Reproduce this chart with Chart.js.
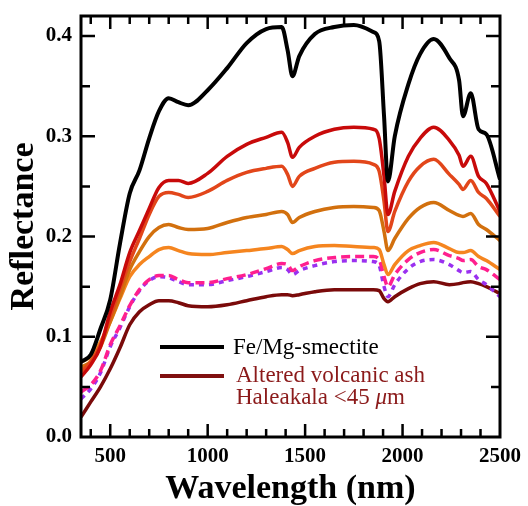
<!DOCTYPE html>
<html><head><meta charset="utf-8">
<script src="https://cdn.jsdelivr.net/npm/chart.js@4/dist/chart.umd.min.js"></script>
<style>html,body{margin:0;padding:0;background:#fff}#wrap{width:528px;height:506px}</style>
</head><body><div id="wrap"><canvas id="c" width="528" height="506"></canvas></div>
<script>
const wavelengths = [350,400,450,500,550,600,650,700,750,800,850,900,1000,1100,1200,1300,1380,1410,1435,1470,1550,1650,1750,1850,1880,1905,1925,1960,2030,2090,2160,2240,2290,2310,2350,2390,2430,2500];
const smectite   = [0.075,0.082,0.108,0.137,0.193,0.243,0.266,0.298,0.325,0.338,0.334,0.331,0.346,0.368,0.393,0.407,0.409,0.386,0.360,0.380,0.402,0.409,0.411,0.404,0.395,0.320,0.255,0.300,0.352,0.382,0.397,0.378,0.356,0.320,0.343,0.307,0.302,0.257];
const sampleRed  = [0.060,0.072,0.090,0.125,0.152,0.184,0.206,0.228,0.249,0.256,0.256,0.253,0.263,0.280,0.292,0.299,0.304,0.294,0.279,0.289,0.300,0.307,0.309,0.307,0.298,0.260,0.222,0.245,0.280,0.298,0.309,0.296,0.281,0.270,0.280,0.260,0.253,0.225];
const sampleOrRed= [0.065,0.075,0.092,0.120,0.148,0.175,0.198,0.222,0.240,0.244,0.242,0.239,0.245,0.256,0.264,0.268,0.270,0.262,0.250,0.260,0.268,0.274,0.275,0.272,0.265,0.235,0.205,0.225,0.255,0.270,0.277,0.262,0.252,0.247,0.256,0.244,0.238,0.220];
const sampleDkOr = [0.070,0.075,0.090,0.115,0.140,0.167,0.185,0.200,0.209,0.212,0.209,0.207,0.208,0.214,0.219,0.222,0.225,0.222,0.214,0.219,0.225,0.229,0.230,0.229,0.226,0.205,0.186,0.198,0.218,0.229,0.234,0.226,0.221,0.220,0.223,0.212,0.207,0.196];
const sampleOr   = [0.075,0.080,0.095,0.115,0.138,0.160,0.172,0.180,0.187,0.189,0.186,0.183,0.182,0.184,0.186,0.188,0.190,0.187,0.183,0.186,0.190,0.191,0.190,0.189,0.187,0.172,0.162,0.172,0.186,0.191,0.194,0.188,0.184,0.184,0.186,0.180,0.176,0.167];
const sampleMag  = [0.045,0.052,0.066,0.092,0.111,0.131,0.147,0.157,0.161,0.161,0.157,0.154,0.154,0.158,0.162,0.168,0.173,0.172,0.166,0.170,0.176,0.179,0.180,0.180,0.177,0.160,0.150,0.162,0.177,0.184,0.187,0.181,0.178,0.176,0.177,0.170,0.167,0.157];
const samplePur  = [0.038,0.048,0.064,0.090,0.109,0.130,0.146,0.156,0.160,0.159,0.155,0.152,0.152,0.156,0.160,0.165,0.169,0.167,0.162,0.166,0.171,0.175,0.176,0.175,0.171,0.150,0.140,0.152,0.168,0.175,0.177,0.172,0.166,0.164,0.165,0.157,0.152,0.140];
const ashHaleakala=[0.020,0.035,0.050,0.068,0.089,0.112,0.125,0.132,0.136,0.136,0.134,0.131,0.130,0.132,0.136,0.140,0.142,0.142,0.141,0.142,0.145,0.147,0.147,0.147,0.146,0.138,0.135,0.140,0.148,0.153,0.155,0.152,0.153,0.154,0.155,0.153,0.150,0.143];
const xTickLabels = [500,1000,1500,2000,2500];
const yTickLabels = [0.0,0.1,0.2,0.3,0.4];
const legendLabels = ["Fe/Mg-smectite","Altered volcanic ash","Haleakala <45 ","\u03BC","m"];

const pts = arr => arr.map((v,i)=>({x:wavelengths[i], y:v}));
const ds = (label, arr, color, width, dash) => ({label, data: pts(arr), borderColor: color, borderWidth: width, borderDash: dash||[], pointRadius:0, fill:false, cubicInterpolationMode:'monotone', borderCapStyle:'butt', borderJoinStyle:'round'});

const SERIF = "'Liberation Serif','Times New Roman',serif";

const framePlugin = {
  id:'frame',
  afterDatasetsDraw(chart){
    const {ctx, chartArea:a, scales:{x,y}} = chart;
    ctx.save();
    ctx.strokeStyle='#000'; ctx.lineWidth=3;
    ctx.strokeRect(a.left, a.top, a.right-a.left, a.bottom-a.top);
    ctx.lineWidth=2.5;
    for(let v=400; v<=2400; v+=100){
      const px = x.getPixelForValue(v);
      const L = (v%500===0)?13:8;
      ctx.beginPath(); ctx.moveTo(px,a.bottom); ctx.lineTo(px,a.bottom-L);
      ctx.moveTo(px,a.top); ctx.lineTo(px,a.top+L); ctx.stroke();
    }
    for(let k=1;k<=8;k++){
      const v=k*0.05; const py=y.getPixelForValue(v);
      const L = (k%2===0)?14:9;
      ctx.beginPath(); ctx.moveTo(a.left,py); ctx.lineTo(a.left+L,py);
      ctx.moveTo(a.right,py); ctx.lineTo(a.right-L,py); ctx.stroke();
    }
    ctx.restore();
  }
};

const legendPlugin = {
  id:'customLegend',
  afterDraw(chart){
    const ctx = chart.ctx;
    ctx.save();
    ctx.lineWidth=4;
    ctx.strokeStyle='#000';
    ctx.beginPath(); ctx.moveTo(160,347); ctx.lineTo(224,347); ctx.stroke();
    ctx.strokeStyle='#801010';
    ctx.beginPath(); ctx.moveTo(160,376); ctx.lineTo(224,376); ctx.stroke();
    ctx.textBaseline='middle'; ctx.textAlign='left';
    ctx.font = "23px "+SERIF;
    ctx.fillStyle='#000';
    ctx.fillText(legendLabels[0], 233, 348);
    ctx.fillStyle='#8b1a1a';
    ctx.fillText(legendLabels[1], 236, 376);
    let xx = 236;
    ctx.fillText(legendLabels[2], xx, 398); xx += ctx.measureText(legendLabels[2]).width;
    ctx.font = "italic 23px "+SERIF;
    ctx.fillText(legendLabels[3], xx, 398); xx += ctx.measureText(legendLabels[3]).width;
    ctx.font = "23px "+SERIF;
    ctx.fillText(legendLabels[4], xx, 398);
    ctx.restore();
  }
};

new Chart(document.getElementById('c'), {
  type:'line',
  data:{ datasets:[
    ds('Fe/Mg-smectite', smectite, '#000000', 4),
    ds('s1', sampleRed, '#c80a0a', 3.5),
    ds('s2', sampleOrRed, '#e2461a', 3.5),
    ds('s3', sampleDkOr, '#d2700e', 3.5),
    ds('s4', sampleOr, '#f5851f', 3.5),
    ds('s5', sampleMag, '#ff1f8e', 3.5, [9,5]),
    ds('s6', samplePur, '#9a30f0', 3.5, [5,5]),
    ds('Altered volcanic ash', ashHaleakala, '#7a0a0a', 3.5)
  ]},
  options:{
    responsive:false, animation:false, devicePixelRatio:1,
    layout:{padding:{top:16,right:28,left:0,bottom:0}},
    plugins:{legend:{display:false}, tooltip:{enabled:false}},
    scales:{
      x:{type:'linear', min:350, max:2500,
        afterBuildTicks: s => { s.ticks = xTickLabels.map(v=>({value:v})); },
        afterFit: s => { s.height = 69; s.paddingLeft = 0; s.paddingRight = 0; },
        grid:{display:false, drawTicks:false}, border:{display:false},
        ticks:{color:'#000', padding:7, maxRotation:0, autoSkip:false, font:{family:SERIF, size:21, weight:'bold'}, callback: v => String(v)},
        title:{display:true, text:'Wavelength (nm)', color:'#000', padding:{top:0,bottom:0}, font:{family:SERIF, size:34, weight:'bold', lineHeight:1}}
      },
      y:{type:'linear', min:0, max:0.42,
        afterBuildTicks: s => { s.ticks = yTickLabels.map(v=>({value:v})); },
        afterFit: s => { s.width = 81; s.paddingTop = 0; s.paddingBottom = 0; },
        grid:{display:false, drawTicks:false}, border:{display:false},
        ticks:{color:'#000', padding:9, autoSkip:false, font:{family:SERIF, size:21, weight:'bold'}, callback: v => v.toFixed(1)},
        title:{display:true, text:'Reflectance', color:'#000', padding:{top:4,bottom:0}, font:{family:SERIF, size:34, weight:'bold'}}
      }
    }
  },
  plugins:[framePlugin, legendPlugin]
});
</script></body></html>
